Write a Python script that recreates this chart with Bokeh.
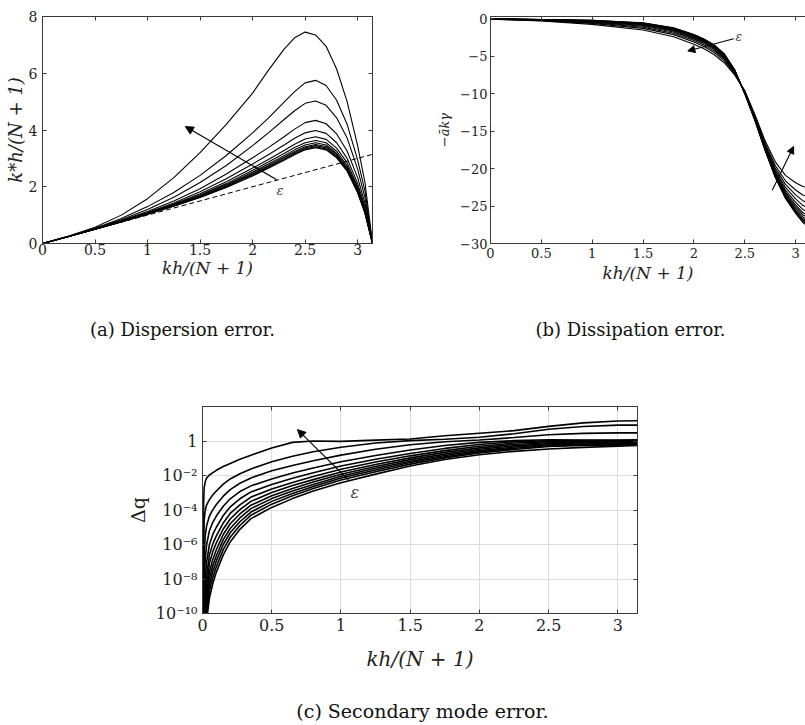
from bokeh.plotting import figure
from bokeh.layouts import column, row
from bokeh.models import (LinearAxis, LogAxis, FixedTicker, Arrow, NormalHead,
                          Label, Range1d)
from bokeh.embed import file_html
from bokeh.resources import INLINE

SERIF = "DejaVu Serif"
AX = "#3a3a3a"
PI = 3.1416

# ---------------- (a) dispersion error ----------------
disp_x = [0, 0.25, 0.5, 0.75, 1.0, 1.25, 1.5, 1.75, 2.0, 2.15, 2.3, 2.4, 2.5,
          2.6, 2.7, 2.8, 2.9, 3.0, 3.07, 3.1416]
disp_curves = [
    [0, 0.26, 0.57, 1.0, 1.58, 2.32, 3.2, 4.2, 5.3, 6.1, 6.85, 7.25, 7.45, 7.35, 6.95, 6.15, 5.0, 3.45, 2.15, 0],
    [0, 0.255, 0.54, 0.88, 1.3, 1.8, 2.4, 3.1, 3.9, 4.42, 4.98, 5.35, 5.66, 5.75, 5.57, 5.05, 4.2, 2.95, 1.85, 0],
    [0, 0.253, 0.53, 0.84, 1.2, 1.63, 2.15, 2.75, 3.45, 3.9, 4.37, 4.68, 4.94, 5.02, 4.87, 4.43, 3.72, 2.62, 1.62, 0],
    [0, 0.252, 0.52, 0.81, 1.13, 1.5, 1.93, 2.45, 3.02, 3.38, 3.76, 4.03, 4.26, 4.34, 4.22, 3.86, 3.26, 2.32, 1.42, 0],
    [0, 0.251, 0.51, 0.79, 1.09, 1.43, 1.82, 2.28, 2.8, 3.13, 3.47, 3.71, 3.9, 3.98, 3.88, 3.55, 3.0, 2.12, 1.3, 0],
    [0, 0.25, 0.51, 0.78, 1.07, 1.39, 1.75, 2.18, 2.66, 2.96, 3.28, 3.5, 3.68, 3.76, 3.67, 3.36, 2.85, 2.01, 1.22, 0],
    [0, 0.25, 0.505, 0.775, 1.06, 1.37, 1.71, 2.11, 2.58, 2.87, 3.17, 3.38, 3.55, 3.63, 3.55, 3.25, 2.75, 1.94, 1.17, 0],
    [0, 0.25, 0.505, 0.77, 1.05, 1.35, 1.68, 2.07, 2.52, 2.8, 3.09, 3.3, 3.47, 3.55, 3.47, 3.18, 2.68, 1.89, 1.13, 0],
    [0, 0.25, 0.503, 0.768, 1.045, 1.34, 1.66, 2.04, 2.48, 2.75, 3.04, 3.24, 3.41, 3.49, 3.42, 3.13, 2.64, 1.86, 1.11, 0],
    [0, 0.25, 0.502, 0.765, 1.04, 1.33, 1.64, 2.01, 2.44, 2.71, 3.0, 3.2, 3.37, 3.45, 3.37, 3.09, 2.6, 1.83, 1.09, 0],
    [0, 0.25, 0.501, 0.762, 1.035, 1.32, 1.63, 1.99, 2.41, 2.68, 2.96, 3.16, 3.33, 3.41, 3.33, 3.05, 2.57, 1.81, 1.07, 0],
    [0, 0.25, 0.5, 0.76, 1.03, 1.31, 1.62, 1.97, 2.38, 2.65, 2.93, 3.13, 3.3, 3.38, 3.3, 3.02, 2.55, 1.79, 1.06, 0],
]
exact_x = [0, 3.1416]
exact_y = [0, 3.1416]
disp_xticks = [0, 0.5, 1, 1.5, 2, 2.5, 3]
disp_yticks = [0, 2, 4, 6, 8]

# ---------------- (b) dissipation error ----------------
diss_x = [0, 0.5, 1.0, 1.5, 1.8, 2.0, 2.1, 2.2, 2.3, 2.4, 2.5, 2.6, 2.7, 2.8,
          2.9, 3.0, 3.07, 3.1416]
diss_curves = [
    [-0.05, -0.3, -0.75, -1.5, -2.4, -3.4, -4.0, -4.8, -5.9, -7.5, -9.6, -12.8, -16.3, -19.1, -20.9, -21.9, -22.4, -22.6],
    [-0.04, -0.25, -0.62, -1.28, -2.12, -3.10, -3.70, -4.50, -5.62, -7.34, -9.69, -12.99, -16.61, -19.59, -21.63, -22.86, -23.53, -23.85],
    [-0.04, -0.22, -0.54, -1.13, -1.93, -2.89, -3.49, -4.29, -5.43, -7.23, -9.76, -13.11, -16.81, -19.92, -22.11, -23.50, -24.28, -24.67],
    [-0.03, -0.20, -0.46, -1.00, -1.77, -2.72, -3.32, -4.12, -5.27, -7.13, -9.81, -13.22, -16.98, -20.20, -22.52, -24.04, -24.91, -25.37],
    [-0.03, -0.17, -0.40, -0.90, -1.64, -2.57, -3.17, -3.97, -5.14, -7.06, -9.85, -13.31, -17.13, -20.43, -22.87, -24.50, -25.45, -25.97],
    [-0.03, -0.16, -0.35, -0.81, -1.53, -2.46, -3.06, -3.86, -5.03, -7.00, -9.89, -13.38, -17.24, -20.62, -23.14, -24.86, -25.87, -26.43],
    [-0.03, -0.14, -0.32, -0.76, -1.46, -2.38, -2.98, -3.78, -4.96, -6.95, -9.91, -13.43, -17.32, -20.74, -23.33, -25.11, -26.16, -26.75],
    [-0.02, -0.13, -0.29, -0.70, -1.39, -2.30, -2.90, -3.70, -4.89, -6.91, -9.94, -13.47, -17.40, -20.87, -23.51, -25.36, -26.45, -27.07],
    [-0.02, -0.12, -0.26, -0.65, -1.33, -2.24, -2.84, -3.64, -4.83, -6.87, -9.96, -13.52, -17.47, -20.98, -23.68, -25.57, -26.70, -27.35],
    [-0.02, -0.11, -0.24, -0.62, -1.28, -2.19, -2.79, -3.59, -4.78, -6.85, -9.97, -13.54, -17.51, -21.05, -23.78, -25.71, -26.86, -27.53],
    [-0.02, -0.11, -0.22, -0.58, -1.24, -2.15, -2.75, -3.55, -4.74, -6.82, -9.99, -13.57, -17.55, -21.13, -23.89, -25.86, -27.03, -27.71],
    [-0.02, -0.10, -0.20, -0.55, -1.20, -2.10, -2.70, -3.50, -4.70, -6.80, -10.0, -13.6, -17.6, -21.2, -24.0, -26.0, -27.2, -27.9],
]
diss_xticks = [0, 0.5, 1, 1.5, 2, 2.5, 3]
diss_yticks = [-30, -25, -20, -15, -10, -5, 0]

# ---------------- (c) secondary mode error (values given as log10 Δq) ----------------
sec_x = [0.004, 0.008, 0.012, 0.02, 0.03, 0.05, 0.075, 0.1, 0.15, 0.2, 0.27,
         0.35, 0.5, 0.65, 0.8, 1.0, 1.25, 1.5, 1.75, 2.0, 2.25, 2.5, 2.75, 3.0,
         3.1416]
sec_log_curves = [
    [-10.5, -3.6, -2.7, -2.35, -2.15, -1.97, -1.83, -1.7, -1.48, -1.3, -1.06, -0.82, -0.4, -0.08, 0.0, -0.02, 0.05, 0.12, 0.3, 0.45, 0.6, 0.85, 1.05, 1.16, 1.17],
    [-13, -6.0, -4.6, -4.0, -3.7, -3.4, -3.12, -2.9, -2.5, -2.2, -1.9, -1.62, -1.2, -0.88, -0.62, -0.36, -0.12, 0.02, 0.1, 0.22, 0.42, 0.68, 0.84, 0.92, 0.92],
    [-14, -8.5, -6.6, -5.5, -4.9, -4.35, -3.98, -3.68, -3.2, -2.82, -2.45, -2.14, -1.72, -1.42, -1.15, -0.82, -0.48, -0.22, -0.04, 0.06, 0.2, 0.36, 0.44, 0.47, 0.47],
    [-15, -10.5, -8.4, -6.8, -6.0, -5.2, -4.7, -4.35, -3.78, -3.35, -2.93, -2.6, -2.2, -1.86, -1.56, -1.2, -0.84, -0.52, -0.26, -0.08, 0.02, 0.07, 0.06, 0.05, 0.07],
    [-16, -12, -10, -8.0, -7.0, -6.0, -5.4, -5.0, -4.32, -3.82, -3.35, -2.95, -2.52, -2.16, -1.84, -1.45, -1.06, -0.72, -0.43, -0.2, -0.04, 0.01, 0.02, 0.02, 0.03],
    [-16.5, -13, -11, -9.0, -7.8, -6.6, -5.95, -5.5, -4.75, -4.2, -3.7, -3.25, -2.78, -2.4, -2.06, -1.64, -1.22, -0.86, -0.56, -0.3, -0.12, -0.04, -0.02, -0.02, 0.0],
    [-17, -13.7, -11.7, -9.7, -8.4, -7.1, -6.4, -5.9, -5.1, -4.52, -3.98, -3.5, -2.98, -2.58, -2.24, -1.8, -1.36, -0.98, -0.66, -0.4, -0.2, -0.1, -0.08, -0.06, -0.05],
    [-17.5, -14.3, -12.3, -10.2, -8.9, -7.6, -6.85, -6.3, -5.42, -4.8, -4.23, -3.72, -3.17, -2.75, -2.38, -1.93, -1.48, -1.08, -0.76, -0.48, -0.28, -0.16, -0.12, -0.1, -0.08],
    [-18, -14.8, -12.8, -10.7, -9.3, -8.0, -7.2, -6.65, -5.72, -5.07, -4.46, -3.92, -3.34, -2.9, -2.52, -2.04, -1.58, -1.17, -0.84, -0.56, -0.35, -0.22, -0.17, -0.15, -0.13],
    [-18.5, -15.3, -13.2, -11.1, -9.7, -8.35, -7.55, -6.95, -6.0, -5.32, -4.68, -4.12, -3.5, -3.04, -2.64, -2.15, -1.68, -1.25, -0.91, -0.63, -0.42, -0.28, -0.22, -0.2, -0.18],
    [-19, -15.8, -13.6, -11.5, -10.0, -8.7, -7.9, -7.28, -6.3, -5.58, -4.9, -4.3, -3.66, -3.18, -2.75, -2.26, -1.78, -1.34, -0.98, -0.7, -0.49, -0.32, -0.26, -0.25, -0.22],
    [-20, -16.3, -14, -11.9, -10.4, -9.1, -8.25, -7.6, -6.6, -5.85, -5.12, -4.5, -3.85, -3.34, -2.9, -2.42, -1.92, -1.45, -1.07, -0.8, -0.6, -0.46, -0.37, -0.3, -0.26],
]
sec_xticks = [0, 0.5, 1, 1.5, 2, 2.5, 3]
sec_yticks = [1e-10, 1e-8, 1e-6, 1e-4, 1e-2, 1.0]
sec_ytick_labels = ["10\u207b\u00b9\u2070", "10\u207b\u2078", "10\u207b\u2076",
                    "10\u207b\u2074", "10\u207b\u00b2", "1"]

captions = ["(a) Dispersion error.", "(b) Dissipation error.",
            "(c) Secondary mode error."]


def style_axis(ax, ticks, size, standoff, label=None, lsize=None, lstandoff=0,
               hide_labels=False):
    ax.ticker = FixedTicker(ticks=ticks)
    ax.major_tick_in = 4
    ax.major_tick_out = 0
    ax.minor_tick_line_color = None
    ax.axis_line_color = AX
    ax.major_tick_line_color = AX
    ax.axis_line_width = 1
    if hide_labels:
        ax.major_label_text_font_size = "1px"
        ax.major_label_text_color = None
        ax.major_label_standoff = 0
        ax.axis_label = None
    else:
        ax.major_label_text_font = SERIF
        ax.major_label_text_font_size = size
        ax.major_label_text_color = "#222222"
        ax.major_label_standoff = standoff
    if label is not None:
        ax.axis_label = label
        ax.axis_label_text_font = SERIF
        ax.axis_label_text_font_size = lsize
        ax.axis_label_text_font_style = "italic"
        ax.axis_label_text_color = "#222222"
        ax.axis_label_standoff = lstandoff


def base_fig(w, h, xr, yr, l, r, t, b, ytype="linear", outline=True):
    p = figure(width=w, height=h, x_range=Range1d(*xr), y_range=Range1d(*yr),
               y_axis_type=ytype, toolbar_location=None, output_backend="svg",
               min_border_left=l, min_border_right=r, min_border_top=t,
               min_border_bottom=b)
    p.grid.visible = False
    p.outline_line_color = AX if outline else None
    p.background_fill_color = "white"
    p.border_fill_color = "white"
    return p


def head(size):
    return NormalHead(size=size, fill_color="black", line_color="black")


# ----- panel (a)
pa = base_fig(420, 300, (0, PI), (0, 8), 42, 48, 8, 57)
style_axis(pa.xaxis[0], disp_xticks, "14px", 0, "kh/(N + 1)", "17px", 0)
style_axis(pa.yaxis[0], disp_yticks, "14px", 5, "k*h/(N + 1)", "18px", 0)
ta = LinearAxis(); style_axis(ta, disp_xticks, "", 0, hide_labels=True)
pa.add_layout(ta, "above")
ra = LinearAxis(); style_axis(ra, disp_yticks, "", 0, hide_labels=True)
pa.add_layout(ra, "right")
for ys in disp_curves:
    pa.line(disp_x, ys, line_color="black", line_width=1.1)
pa.line(exact_x, exact_y, line_color="black", line_width=1, line_dash="5 3")
pa.add_layout(Arrow(end=head(8), x_start=2.23, y_start=2.25, x_end=1.36,
                    y_end=4.12, line_width=1.2, line_color="black"))
pa.add_layout(Label(x=2.26, y=1.86, text="\u03b5", text_font=SERIF,
                    text_font_size="13px", text_font_style="italic",
                    text_align="center", text_baseline="middle"))

# ----- panel (b)  (the page edge cuts this panel at about kh/(N+1) = 3.1)
pb = base_fig(385, 300, (0, 3.097), (-30, 0.3), 70, 0, 16, 56, outline=False)
style_axis(pb.xaxis[0], diss_xticks, "13px", 4, "kh/(N + 1)", "17px", 2)
style_axis(pb.yaxis[0], diss_yticks, "13px", 3, "\u2212\u0101k\u03b3", "13px", 5)
tb = LinearAxis(); style_axis(tb, diss_xticks, "", 0, hide_labels=True)
pb.add_layout(tb, "above")
for ys in diss_curves:
    pb.line(diss_x, ys, line_color="black", line_width=1.1)
pb.add_layout(Arrow(end=head(7), x_start=2.39, y_start=-2.66, x_end=1.94,
                    y_end=-4.3, line_width=1.1, line_color="black"))
pb.add_layout(Arrow(end=head(7), x_start=2.77, y_start=-22.9, x_end=2.98,
                    y_end=-17.05, line_width=1.1, line_color="black"))
pb.add_layout(Label(x=2.41, y=-2.5, text="\u03b5", text_font=SERIF,
                    text_font_size="12px", text_font_style="italic",
                    text_align="left", text_baseline="middle"))

# ----- panel (c)
pc = base_fig(805, 320, (0, PI), (1e-10, 1e2), 202, 168, 46, 67, ytype="log")
style_axis(pc.xaxis[0], sec_xticks, "16px", 5, "kh/(N + 1)", "20px", 13)
style_axis(pc.yaxis[0], sec_yticks, "16px", 5, "\u0394q", "19px", 4)
pc.yaxis[0].major_label_overrides = dict(zip(sec_yticks, sec_ytick_labels))
pc.yaxis[0].axis_label_text_font_style = "normal"
tc = LinearAxis(); style_axis(tc, sec_xticks, "", 0, hide_labels=True)
pc.add_layout(tc, "above")
rc = LogAxis(); style_axis(rc, sec_yticks, "", 0, hide_labels=True)
pc.add_layout(rc, "right")
pc.xgrid.visible = True
pc.ygrid.visible = True
pc.xgrid.ticker = FixedTicker(ticks=sec_xticks)
pc.ygrid.ticker = FixedTicker(ticks=sec_yticks)
pc.xgrid.grid_line_color = "#dcdcdc"
pc.ygrid.grid_line_color = "#dcdcdc"
for logs in sec_log_curves:
    pc.line(sec_x, [10.0 ** v for v in logs], line_color="black", line_width=1.6)
pc.add_layout(Arrow(end=head(8), x_start=1.054, y_start=10 ** -2.25,
                    x_end=0.686, y_end=10 ** 0.66, line_width=1.2,
                    line_color="black"))
pc.add_layout(Label(x=1.10, y=10 ** -2.97, text="\u03b5", text_font=SERIF,
                    text_font_size="16px", text_font_style="italic",
                    text_align="center", text_baseline="middle"))


# ----- captions
def caption_fig(w, h, txt, cx, cy, size):
    p = figure(width=w, height=h, x_range=Range1d(0, w), y_range=Range1d(0, h),
               toolbar_location=None, output_backend="svg", min_border=0,
               x_axis_location=None, y_axis_location=None)
    p.grid.visible = False
    p.outline_line_color = None
    p.add_layout(Label(x=cx, y=cy, text=txt, text_font=SERIF,
                       text_font_size=size, text_align="center",
                       text_baseline="middle", text_color="#111111"))
    return p


cap_a = caption_fig(420, 60, captions[0], 182, 31, "18px")
cap_b = caption_fig(385, 60, captions[1], 210, 31, "18px")
cap_c = caption_fig(805, 45, captions[2], 407, 15, "19px")

layout = column(row(pa, pb), row(cap_a, cap_b), pc, cap_c)
open("out.html", "w").write(file_html(layout, INLINE))
